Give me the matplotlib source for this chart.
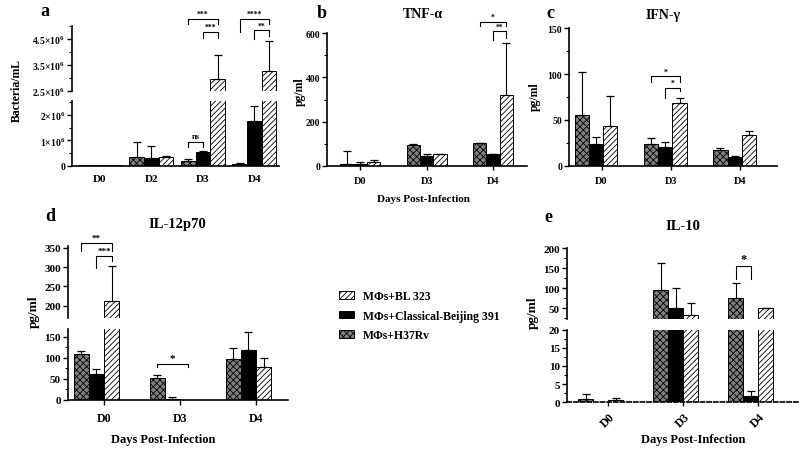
import numpy as np
import matplotlib
matplotlib.use('Agg')
import matplotlib.pyplot as plt
from matplotlib.patches import Patch
from matplotlib.ticker import MultipleLocator

plt.rcParams['font.family'] = 'Liberation Serif'
plt.rcParams['font.weight'] = 'bold'
plt.rcParams['mathtext.fontset'] = 'custom'
plt.rcParams['mathtext.rm'] = 'Liberation Serif:bold'
plt.rcParams['mathtext.it'] = 'Liberation Serif:bold:italic'
plt.rcParams['mathtext.bf'] = 'Liberation Serif:bold'
plt.rcParams['hatch.linewidth'] = 0.6

# ---- data (mean, SD) ; series order: H37Rv, Classical-Beijing 391, BL 323
days_a = ['D0', 'D2', 'D3', 'D4']
a_h37 = [0.01e6, 0.33e6, 0.20e6, 0.08e6]
a_h37_sd = [0, 0.60e6, 0.05e6, 0.01e6]
a_cb = [0.01e6, 0.29e6, 0.53e6, 1.78e6]
a_cb_sd = [0, 0.50e6, 0.07e6, 0.60e6]
a_bl = [0.01e6, 0.34e6, 2.94e6, 3.26e6]
a_bl_sd = [0, 0.03e6, 0.92e6, 1.16e6]

days = ['D0', 'D3', 'D4']
tnf_h37 = [8, 95, 103]
tnf_h37_sd = [60, 2, 2]
tnf_cb = [8, 45, 52]
tnf_cb_sd = [8, 10, 3]
tnf_bl = [19, 53, 321]
tnf_bl_sd = [10, 2, 236]

ifn_h37 = [55, 24, 17]
ifn_h37_sd = [47, 6, 2.5]
ifn_cb = [24, 21, 10]
ifn_cb_sd = [8, 5, 1]
ifn_bl = [43, 68, 34]
ifn_bl_sd = [33, 6, 4]

il12_h37 = [110, 53, 96]
il12_h37_sd = [5, 5.5, 28]
il12_cb = [62, 2.4, 119]
il12_cb_sd = [12, 4, 41]
il12_bl = [213, 0, 78]
il12_bl_sd = [91, 0, 21]

il10_h37 = [0.9, 96, 75]
il10_h37_sd = [1.4, 68, 38]
il10_cb = [0, 50, 1.65]
il10_cb_sd = [0, 51, 1.55]
il10_bl = [0.7, 33, 50]
il10_bl_sd = [0.6, 30, 1]

labels = ['MΦs+BL 323', 'MΦs+Classical-Beijing 391', 'MΦs+H37Rv']

W, H = 800, 452
fig = plt.figure(figsize=(8, 4.52), dpi=100)

STY = [dict(facecolor='#808080', hatch='xxxxx', edgecolor='k', linewidth=0.7),
       dict(facecolor='k', edgecolor='k', linewidth=0.7),
       dict(facecolor='white', hatch='//////', edgecolor='k', linewidth=0.7)]


def px_axes(x0, x1, ytop, ybot):
    return fig.add_axes([x0 / W, 1 - ybot / H, (x1 - x0) / W, (ybot - ytop) / H])


def ftext(x, y, s, **kw):
    kw.setdefault('ha', 'center')
    kw.setdefault('va', 'center')
    fig.text(x / W, 1 - y / H, s, **kw)


def style_ax(ax, fs, bottom=True):
    for s in ['top', 'right']:
        ax.spines[s].set_visible(False)
    ax.spines['left'].set_linewidth(1.2)
    if bottom:
        ax.spines['bottom'].set_linewidth(1.2)
    else:
        ax.spines['bottom'].set_visible(False)
        ax.tick_params(axis='x', bottom=False, labelbottom=False)
    ax.tick_params(axis='both', which='major', length=3.5, width=1, labelsize=fs, pad=1.5)
    ax.tick_params(axis='both', which='minor', length=2, width=0.8)
    ax.tick_params(axis='x', which='minor', bottom=False)


def draw(ax, series, w):
    n = len(series[0][0])
    for k, (vals, sds) in enumerate(series):
        x = np.arange(n) + (k - 1) * w
        ax.bar(x, vals, w, **STY[k])
        sds = np.array(sds, dtype=float)
        m = sds > 0
        ax.errorbar(x[m], np.array(vals)[m], yerr=[np.zeros(m.sum()), sds[m]], fmt='none',
                    ecolor='k', elinewidth=0.8, capsize=2.6, capthick=0.9)


def bracket(ax, x1, x2, ytop, yl1, yl2, txt, fs, dy=0):
    ax.plot([x1, x1, x2, x2], [yl1, ytop, ytop, yl2], color='k', lw=0.8, clip_on=False)
    ax.text((x1 + x2) / 2, ytop + dy, txt, ha='center', va='bottom', fontsize=fs, clip_on=False)


def sci(v):
    if v == 0:
        return '0'
    return r'$' + ('%g' % (v / 1e6)) + r'{\times}10^{6}$'


# ---------------- panel a ----------------
wa = 0.285
sa = [(a_h37, a_h37_sd), (a_cb, a_cb_sd), (a_bl, a_bl_sd)]
a_lo = px_axes(72, 279, 101.7, 166.7)
a_hi = px_axes(72, 279, 27, 91.5)
for ax in (a_lo, a_hi):
    draw(ax, sa, wa)
    ax.set_xlim(-0.544, 3.48)
a_lo.set_ylim(0, 2.57e6)
a_hi.set_ylim(2.5e6, 5.0e6)
style_ax(a_lo, 7)
style_ax(a_hi, 7, bottom=False)
a_lo.set_yticks([0, 1e6, 2e6])
a_lo.set_yticklabels([sci(v) for v in [0, 1e6, 2e6]])
a_lo.yaxis.set_minor_locator(MultipleLocator(0.5e6))
a_hi.set_yticks([2.5e6, 3.5e6, 4.5e6])
a_hi.set_yticklabels([sci(v) for v in [2.5e6, 3.5e6, 4.5e6]])
a_hi.yaxis.set_minor_locator(MultipleLocator(0.5e6))
a_lo.set_xticks(range(4))
a_lo.set_xticklabels(days_a)
a_lo.tick_params(axis='x', labelsize=8, length=0, pad=6)
bracket(a_hi, 2 - wa, 2 + wa, 5.27e6, 5.08e6, 5.08e6, '***', 5.5, 0.03e6)
bracket(a_hi, 2, 2 + wa, 4.77e6, 4.55e6, 4.55e6, '***', 5.5, 0.03e6)
bracket(a_hi, 3 - wa, 3 + wa, 5.27e6, 4.77e6, 5.08e6, '****', 5.5, 0.03e6)
bracket(a_hi, 3, 3 + wa, 4.84e6, 4.5e6, 4.6e6, '**', 5.5, 0.03e6)
bracket(a_lo, 2 - wa, 2, 0.92e6, 0.74e6, 0.74e6, 'ns', 6, 0.08e6)
ftext(45, 12, 'a', fontsize=13)
ftext(17, 91, 'Bacteria/mL', fontsize=8.5, rotation=90)

# ---------------- panel b ----------------
wb = 0.2
b = px_axes(327, 527, 34, 167)
draw(b, [(tnf_h37, tnf_h37_sd), (tnf_cb, tnf_cb_sd), (tnf_bl, tnf_bl_sd)], wb)
b.set_xlim(-0.5, 2.51)
b.set_ylim(0, 600)
style_ax(b, 7)
b.set_yticks([0, 200, 400, 600])
b.yaxis.set_minor_locator(MultipleLocator(100))
b.set_xticks(range(3))
b.set_xticklabels(days)
b.tick_params(axis='x', labelsize=7.5, length=3, pad=4)
bracket(b, 2 - wb, 2 + wb, 650, 631, 631, '*', 5.5, 3)
bracket(b, 2, 2 + wb, 609, 568, 577, '**', 5.5, 3)
ftext(322, 14, 'b', fontsize=13)
ftext(423, 14, 'TNF-α', fontsize=10)
ftext(423, 200, 'Days Post-Infection', fontsize=8)
ftext(300, 92, 'pg/ml', fontsize=8.5, rotation=90)

# ---------------- panel c ----------------
wc = 0.205
c = px_axes(569, 777, 29, 167)
draw(c, [(ifn_h37, ifn_h37_sd), (ifn_cb, ifn_cb_sd), (ifn_bl, ifn_bl_sd)], wc)
c.set_xlim(-0.39, 2.61)
c.set_ylim(0, 150)
style_ax(c, 7)
c.set_yticks([0, 50, 100, 150])
c.yaxis.set_minor_locator(MultipleLocator(25))
c.set_xticks(np.arange(3) + 0.08)
c.set_xticklabels(days)
c.tick_params(axis='x', labelsize=7.5, length=3, pad=4)
bracket(c, 1 - wc, 1 + wc, 97.5, 91, 91, '*', 5.5, 1)
bracket(c, 1, 1 + wc, 85, 74, 81.5, '*', 5.5, 1)
ftext(550, 14, 'c', fontsize=13)
ftext(663, 15, 'IFN-γ', fontsize=10)
ftext(535, 97, 'pg/ml', fontsize=8.5, rotation=90)

# ---------------- panel d ----------------
wd = 0.2
sd = [(il12_h37, il12_h37_sd), (il12_cb, il12_cb_sd), (il12_bl, il12_bl_sd)]
d_lo = px_axes(68, 288, 330, 401)
d_hi = px_axes(68, 288, 247, 319)
for ax in (d_lo, d_hi):
    draw(ax, sd, wd)
    ax.set_xlim(-0.375, 2.52)
d_lo.set_ylim(0, 168)
d_hi.set_ylim(168, 355)
style_ax(d_lo, 8)
style_ax(d_hi, 8, bottom=False)
d_lo.set_yticks([0, 50, 100, 150])
d_lo.yaxis.set_minor_locator(MultipleLocator(25))
d_hi.set_yticks([200, 250, 300, 350])
d_lo.set_xticks(np.arange(3) + 0.1)
d_lo.set_xticklabels(days)
d_lo.tick_params(axis='x', labelsize=8.5, length=3.5, pad=5)
bracket(d_hi, -wd, wd, 364, 343, 343, '**', 6.5, 1)
bracket(d_hi, 0, wd, 330, 298, 316, '***', 6.5, 1)
bracket(d_lo, 1 - wd, 1 + wd, 85, 78, 78, '*', 8, 3)
ftext(50, 217, 'd', fontsize=13)
ftext(177, 225, 'IL-12p70', fontsize=10.5)
ftext(163, 440, 'Days Post-Infection', fontsize=9)
ftext(34, 312, 'pg/ml', fontsize=9.5, rotation=90)

# ---------------- panel e ----------------
we = 0.2
se = [(il10_h37, il10_h37_sd), (il10_cb, il10_cb_sd), (il10_bl, il10_bl_sd)]
e_lo = px_axes(567, 798, 330.7, 403.3)
e_hi = px_axes(567, 798, 249.3, 320)
for ax in (e_lo, e_hi):
    draw(ax, se, we)
    ax.set_xlim(-0.45, 2.63)
e_lo.set_ylim(0, 20)
e_hi.set_ylim(23, 200)
style_ax(e_lo, 8)
style_ax(e_hi, 8, bottom=False)
e_lo.spines['bottom'].set_linestyle((0, (2.5, 1.5)))
e_lo.set_yticks([0, 5, 10, 15, 20])
e_lo.yaxis.set_minor_locator(MultipleLocator(2.5))
e_hi.set_yticks([50, 100, 150, 200])
e_hi.yaxis.set_minor_locator(MultipleLocator(25))
e_lo.set_xticks(np.arange(3) + 0.1)
e_lo.set_xticklabels(days, rotation=45, ha='right', rotation_mode='anchor')
e_lo.tick_params(axis='x', labelsize=8.5, length=3, pad=3)
bracket(e_hi, 2 - we, 2, 155, 123, 123, '*', 9, 2)
ftext(548, 218, 'e', fontsize=13)
ftext(683, 227, 'IL-10', fontsize=10.5)
ftext(693, 440, 'Days Post-Infection', fontsize=9)
ftext(533, 313, 'pg/ml', fontsize=9.5, rotation=90)

# ---------------- legend ----------------
handles = [Patch(**STY[2]), Patch(**STY[1]), Patch(**STY[0])]
fig.legend(handles, labels, loc='upper left', bbox_to_anchor=(339 / W, 1 - 291 / H),
           frameon=False, fontsize=8.5, handlelength=1.3, handleheight=0.6,
           handletextpad=0.75, labelspacing=0.65, borderpad=0, borderaxespad=0)

fig.savefig('out.png', dpi=100)
